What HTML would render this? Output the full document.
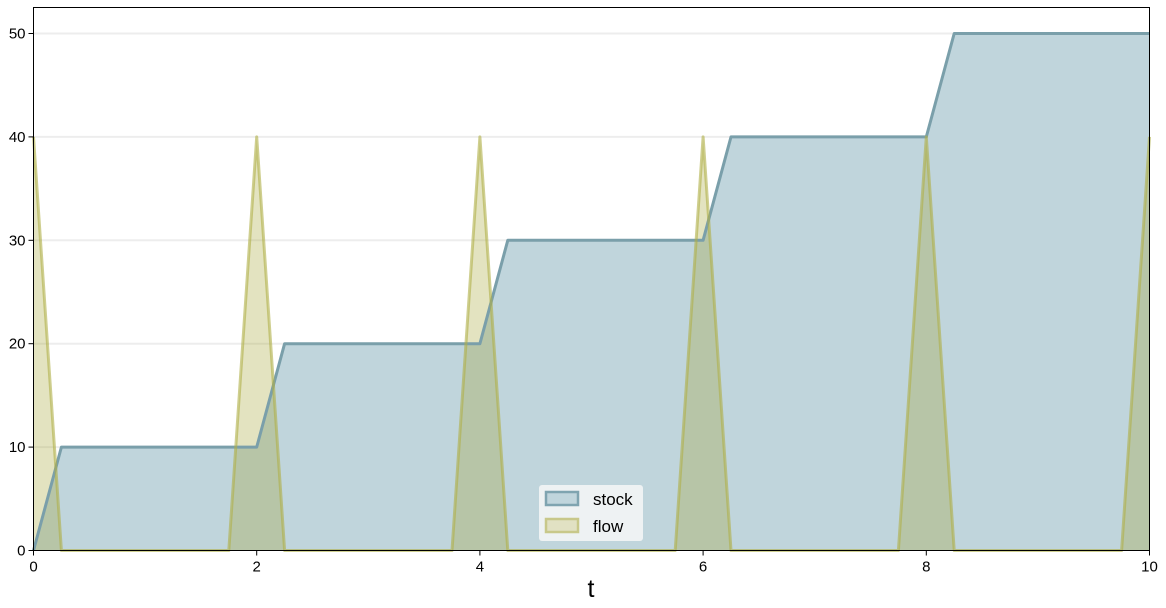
<!DOCTYPE html>
<html><head><meta charset="utf-8"><style>
body{margin:0;background:#fff;}
svg{display:block;font-family:"Liberation Sans","DejaVu Sans",sans-serif;}
</style></head><body>
<svg id="chart" width="1166" height="608" viewBox="0 0 1166 608" xmlns="http://www.w3.org/2000/svg">
<g id="grid"></g>
<g id="series"></g>
<rect x="33.5" y="7.5" width="1116" height="543" fill="none" stroke="#000" stroke-width="1"/>
<g id="axes"></g>
<text x="591" y="597" font-size="25" text-anchor="middle">t</text>
<g>
<rect x="539" y="485" width="104" height="56" rx="3" fill="#f3f5f5" fill-opacity="0.9"/>
<rect x="546" y="492" width="32" height="13" fill="rgb(192,213,220)" stroke="#7fa4b0" stroke-width="2.5"/>
<text x="593" y="505" font-size="17">stock</text>
<rect x="546" y="519" width="32" height="13" fill="rgb(225,225,195)" stroke="#c8c88a" stroke-width="2.5"/>
<text x="593" y="532" font-size="17">flow</text>
</g>
</svg>
<script>
const tValues=[0,0.25,1.75,2,2.25,3.75,4,4.25,5.75,6,6.25,7.75,8,8.25,9.75,10];
const stockValues=[0,10,10,10,20,20,20,30,30,30,40,40,40,50,50,50];
const flowValues=[40,0,0,40,0,0,40,0,0,40,0,0,40,0,0,40];
const xTicks=[0,2,4,6,8,10];
const yTicks=[0,10,20,30,40,50];
const NS="http://www.w3.org/2000/svg";
const X0=33.5,X1=1149.5,Y0=550.5,Y50=33.5;
function xs(v){return X0+(X1-X0)*v/10;}
function ys(v){return Y0+(Y50-Y0)*v/50;}
function mk(tag,attrs,parent){const e=document.createElementNS(NS,tag);for(const k in attrs)e.setAttribute(k,attrs[k]);parent.appendChild(e);return e;}
const grid=document.getElementById('grid'),series=document.getElementById('series'),axes=document.getElementById('axes');
function area(vals){let d='M'+xs(tValues[0])+','+ys(0);tValues.forEach((t,i)=>{d+=' L'+xs(t)+','+ys(vals[i]);});d+=' L'+xs(tValues[tValues.length-1])+','+ys(0)+' Z';return d;}
function line(vals){return tValues.map((t,i)=>(i?'L':'M')+xs(t)+','+ys(vals[i])).join(' ');}
const sa=mk('path',{d:area(stockValues),fill:'rgb(192,213,220)'},series);


const fa=mk('path',{d:area(flowValues),fill:'rgba(162,162,45,0.3)'},series);


yTicks.forEach(v=>{if(v===0)return;const g=mk('line',{x1:X0,x2:X1,y1:ys(v),y2:ys(v),stroke:'#cccccc','stroke-opacity':0.35,'stroke-width':2},grid);

});
const sl=mk('path',{d:line(stockValues),fill:'none',stroke:'#7a9faa','stroke-width':3,'stroke-linejoin':'round'},series);


const fl=mk('path',{d:line(flowValues),fill:'none',stroke:'rgba(175,175,70,0.6)','stroke-width':3,'stroke-linejoin':'round'},series);


xTicks.forEach(v=>{const tk=mk('line',{x1:xs(v),x2:xs(v),y1:Y0,y2:Y0+5,stroke:'#000'},axes);


const tx=mk('text',{x:xs(v),y:Y0+21,'font-size':15,'text-anchor':'middle'},axes);tx.textContent=v;

});
yTicks.forEach(v=>{const tk=mk('line',{x1:X0-5,x2:X0,y1:ys(v),y2:ys(v),stroke:'#000'},axes);


const tx=mk('text',{x:X0-8,y:ys(v)+5,'font-size':15,'text-anchor':'end'},axes);tx.textContent=v;

});
</script>
</body></html>
